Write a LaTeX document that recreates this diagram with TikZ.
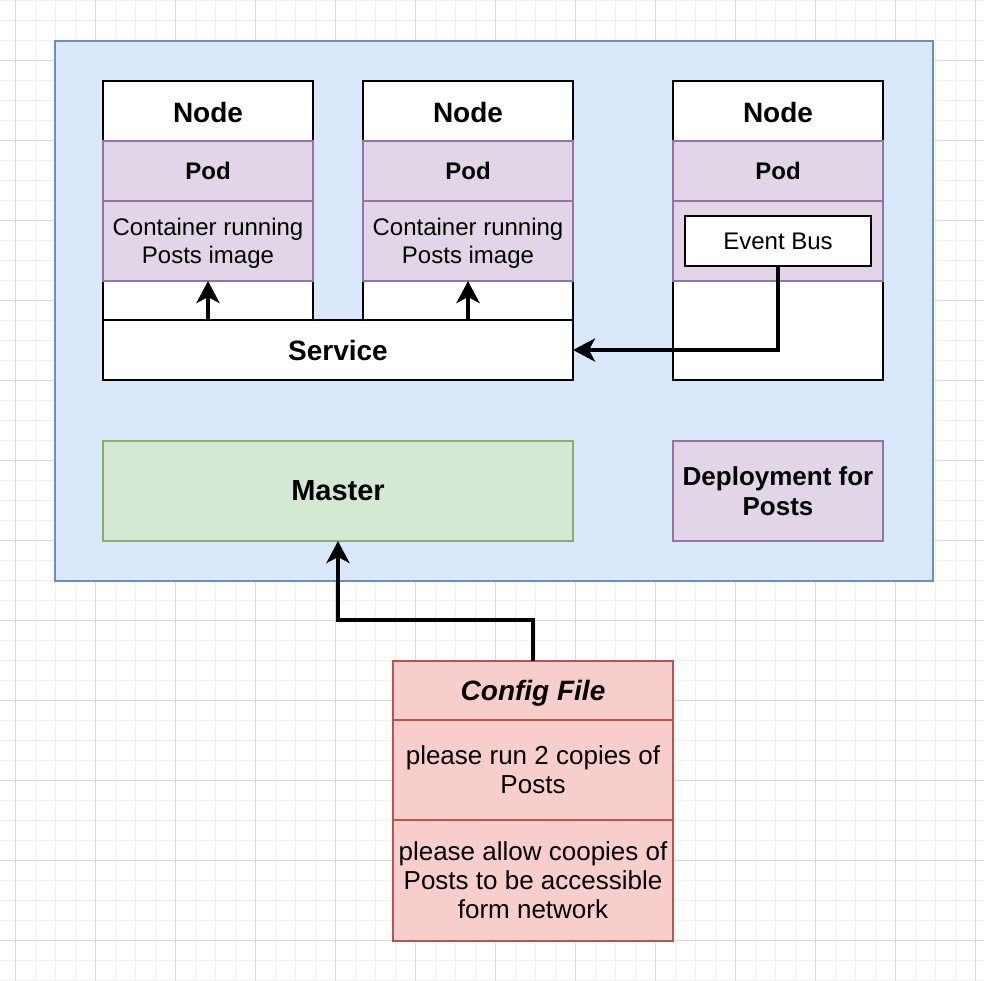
\documentclass[tikz,border=0pt]{standalone}
\usepackage{fontspec}
\setmainfont{Liberation Sans}
\usetikzlibrary{arrows.meta}
\definecolor{bluefill}{HTML}{DAE8FC}
\definecolor{bluedraw}{HTML}{6C8EBF}
\definecolor{purfill}{HTML}{E1D5E7}
\definecolor{purdraw}{HTML}{9673A6}
\definecolor{grnfill}{HTML}{D5E8D4}
\definecolor{grndraw}{HTML}{82B366}
\definecolor{redfill}{HTML}{F8CECC}
\definecolor{reddraw}{HTML}{B85450}
\definecolor{gridminor}{HTML}{F0F0F0}
\definecolor{gridmajor}{HTML}{DADADA}
\begin{document}
\begin{tikzpicture}[x=1pt,y=-1pt,
  box/.style={draw, line width=2pt, inner sep=0pt, outer sep=0pt, align=center, text depth=0pt},
  whitebox/.style={box, fill=white, draw=black},
  purbox/.style={box, fill=purfill, draw=purdraw},
  grnbox/.style={box, fill=grnfill, draw=grndraw},
  redbox/.style={box, fill=redfill, draw=reddraw},
  title/.style={inner sep=0pt, text depth=0pt},
  fbig/.style={font=\fontsize{28}{33.6}\selectfont\bfseries},
  fmid/.style={font=\fontsize{24}{28.8}\selectfont\bfseries},
  freg/.style={font=\fontsize{24}{28.4}\selectfont},
  fcfg/.style={font=\fontsize{26}{29}\selectfont},
  conn/.style={line width=4pt, -{Stealth[length=22pt,width=23pt,inset=6pt]}},
  gminor/.style={draw=gridminor, line width=1pt},
  gmajor/.style={draw=gridmajor, line width=1pt}
]
\useasboundingbox (0,0) rectangle (984,980);
\fill[white] (0,0) rectangle (984,980);
% grid
\foreach \x in {15,35,...,975} \draw[gminor] (\x,0) -- (\x,980);
\foreach \y in {0,20,...,980} \draw[gminor] (0,\y) -- (984,\y);
\foreach \x in {15,95,...,975} \draw[gmajor] (\x,0) -- (\x,980);
\foreach \y in {60,140,...,940} \draw[gmajor] (0,\y) -- (984,\y);

% cluster
\node[box, fill=bluefill, draw=bluedraw, minimum width=878pt, minimum height=540pt] (cluster) at (494,311) {};

% node 1
\node[whitebox, minimum width=210pt, minimum height=299pt] (node1) at (208,230.5) {};
\node[title, fbig] (node1t) at (208,112) {Node};
\node[purbox, fmid, minimum width=210pt, minimum height=60pt] (pod1) at (208,171) {Pod};
\node[purbox, freg, minimum width=210pt, minimum height=80pt] (cont1) at (208,241) {Container running\\Posts image};

% node 2
\node[whitebox, minimum width=210pt, minimum height=299pt] (node2) at (468,230.5) {};
\node[title, fbig] (node2t) at (468,112) {Node};
\node[purbox, fmid, minimum width=210pt, minimum height=60pt] (pod2) at (468,171) {Pod};
\node[purbox, freg, minimum width=210pt, minimum height=80pt] (cont2) at (468,241) {Container running\\Posts image};

% node 3
\node[whitebox, minimum width=210pt, minimum height=299pt] (node3) at (778,230.5) {};
\node[title, fbig] (node3t) at (778,112) {Node};
\node[purbox, fmid, minimum width=210pt, minimum height=60pt] (pod3) at (778,171) {Pod};
\node[purbox, minimum width=210pt, minimum height=80pt] (cont3) at (778,241) {};
\node[whitebox, freg, minimum width=186pt, minimum height=50pt] (eb) at (778,241) {Event Bus};

% service
\node[whitebox, fbig, minimum width=470pt, minimum height=60pt] (service) at (338,350) {Service};

% master & deployment
\node[grnbox, font=\fontsize{29}{34.8}\selectfont\bfseries, minimum width=470pt, minimum height=100pt] (master) at (338,491) {Master};
\node[purbox, font=\fontsize{26}{30}\selectfont\bfseries, minimum width=210pt, minimum height=100pt] (deploy) at (778,491) {Deployment for\\Posts};

% config file
\node[redbox, font=\fontsize{28}{33.6}\selectfont\bfseries\itshape, minimum width=280pt, minimum height=59pt] (cfgt) at (533,690.5) {Config File};
\node[redbox, fcfg, minimum width=280pt, minimum height=100pt] (cfg2) at (533,770) {please run 2 copies of\\Posts};
\node[redbox, fcfg, minimum width=280pt, minimum height=121pt] (cfg3) at (533,880.5) {please allow coopies of\\Posts to be accessible\\form network};

% connectors
\draw[conn] (cont1.south |- service.north) -- (cont1.south);
\draw[conn] (cont2.south |- service.north) -- (cont2.south);
\draw[conn] (eb.south) |- (service.east);
\draw[conn] (cfgt.north) -- ++(0,-41) -| (master.south);
\end{tikzpicture}
\end{document}
